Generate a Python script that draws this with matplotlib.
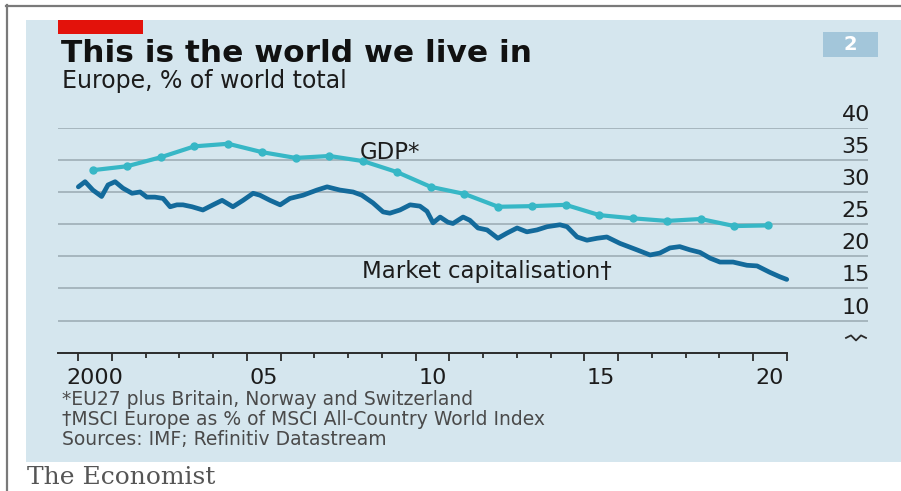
import matplotlib
matplotlib.use("Agg")
import matplotlib.pyplot as plt
from matplotlib.patches import Rectangle
from matplotlib.lines import Line2D
import matplotlib.transforms as mtransforms

# ---------------- data ----------------
gdp_years = list(range(2000, 2021))
gdp_share = [33.4, 34.0, 35.4, 37.1, 37.5, 36.2, 35.3, 35.6, 34.8, 33.1, 30.8,
             29.7, 27.7, 27.8, 28.0, 26.4, 25.9, 25.5, 25.8, 24.7, 24.8]

mcap_dates = [2000.01, 2000.21, 2000.44, 2000.70, 2000.89, 2001.10, 2001.33, 2001.60,
              2001.84, 2002.04, 2002.28, 2002.52, 2002.73, 2002.93, 2003.11, 2003.38,
              2003.70, 2004.00, 2004.27, 2004.59, 2004.89, 2005.19, 2005.39, 2005.69,
              2005.99, 2006.28, 2006.67, 2007.08, 2007.38, 2007.76, 2008.15, 2008.41,
              2008.74, 2009.04, 2009.24, 2009.54, 2009.84, 2010.13, 2010.34, 2010.52,
              2010.73, 2010.96, 2011.11, 2011.41, 2011.61, 2011.85, 2012.12, 2012.44,
              2012.71, 2013.01, 2013.30, 2013.60, 2013.90, 2014.28, 2014.49, 2014.79,
              2015.08, 2015.38, 2015.67, 2016.06, 2016.56, 2016.95, 2017.24, 2017.54,
              2017.83, 2018.13, 2018.43, 2018.73, 2019.02, 2019.41, 2019.82, 2020.12,
              2020.50, 2020.80, 2021.00]
mcap_share = [30.8, 31.6, 30.3, 29.3, 31.1, 31.6, 30.6, 29.8,
              30.0, 29.2, 29.2, 29.0, 27.7, 28.0, 28.0, 27.7,
              27.2, 28.0, 28.7, 27.7, 28.7, 29.8, 29.5, 28.7,
              28.0, 29.0, 29.5, 30.3, 30.8, 30.3, 30.0, 29.5,
              28.3, 26.9, 26.7, 27.2, 28.0, 27.8, 27.0, 25.2,
              26.1, 25.3, 25.1, 26.1, 25.6, 24.4, 24.1, 22.8,
              23.6, 24.4, 23.8, 24.1, 24.6, 24.9, 24.6, 23.0,
              22.5, 22.8, 23.0, 22.0, 21.0, 20.2, 20.5, 21.3,
              21.5, 21.0, 20.6, 19.7, 19.1, 19.1, 18.6, 18.5,
              17.5, 16.8, 16.4]

y_ticks = [10, 15, 20, 25, 30, 35, 40]
x_tick_years = [2000, 2005, 2010, 2015, 2020]
x_tick_labels = ["2000", "05", "10", "15", "20"]

title = "This is the world we live in"
subtitle = "Europe, % of world total"
footnotes = ["*EU27 plus Britain, Norway and Switzerland",
             "\u2020MSCI Europe as % of MSCI All-Country World Index",
             "Sources: IMF; Refinitiv Datastream"]

# ---------------- style ----------------
W, H = 901, 491
BG = "#d5e6ee"
GRID = "#a3b3bb"
TXT = "#1c1c1c"
GDP_C = "#37b7c6"
MCAP_C = "#136a9b"
FONT = "DejaVu Sans"

plt.rcParams["font.family"] = [FONT]

fig = plt.figure(figsize=(W / 100, H / 100), dpi=100)
fig.patch.set_facecolor("white")

def fx(x):
    return x / W

def fy(y):
    return 1 - y / H

# outer frame lines
fig.add_artist(Line2D([fx(6), fx(901)], [fy(5.5), fy(5.5)], color="#7a7a7a", lw=1.6))
fig.add_artist(Line2D([fx(6.5), fx(6.5)], [fy(5), fy(491)], color="#7a7a7a", lw=1.6))
# panel
fig.add_artist(Rectangle((fx(26), fy(462)), fx(901) - fx(26), fy(20) - fy(462),
                         transform=fig.transFigure, facecolor=BG, edgecolor="none", zorder=0))
# red tag
fig.add_artist(Rectangle((fx(58), fy(34)), fx(143) - fx(58), fy(20) - fy(34),
                         transform=fig.transFigure, facecolor="#e3120b", edgecolor="none", zorder=1))
# chart number box
fig.add_artist(Rectangle((fx(823), fy(57)), fx(878) - fx(823), fy(32) - fy(57),
                         transform=fig.transFigure, facecolor="#a3c6da", edgecolor="none", zorder=1))
fig.text(fx(850.5), fy(45), "2", color="white", fontsize=14, fontweight="bold",
         ha="center", va="center")

# titles
fig.text(fx(61), fy(62), title, fontsize=22.5, fontweight="bold", color="#111111",
         ha="left", va="baseline")
fig.text(fx(62), fy(88), subtitle, fontsize=17, color=TXT, ha="left", va="baseline")

# axes
x_left_px, x_right_px = 58, 868
y_top_px, y_bot_px = 127.7, 352.7
ax = fig.add_axes([fx(x_left_px), fy(y_bot_px), fx(x_right_px) - fx(x_left_px),
                   fy(y_top_px) - fy(y_bot_px)])
ax.set_facecolor("none")
px_per_year = 33.75
x0 = 2000 - (78 - x_left_px) / px_per_year
x1 = 2000 + (x_right_px - 78) / px_per_year
ax.set_xlim(x0, x1)
ax.set_ylim(5, 40)

for v in y_ticks:
    ax.axhline(v, color=GRID, lw=1.3, zorder=1)

ax.plot([y + 0.45 for y in gdp_years], gdp_share, color=GDP_C, lw=3.0,
        marker="o", markersize=5, solid_capstyle="round", zorder=3, clip_on=False)
ax.plot(mcap_dates, mcap_share, color=MCAP_C, lw=3.4, solid_joinstyle="round",
        solid_capstyle="round", zorder=4, clip_on=False)

for s in ["top", "right", "left"]:
    ax.spines[s].set_visible(False)
ax.spines["bottom"].set_bounds(x0, 2021)
ax.spines["bottom"].set_color("#2b2b2b")
ax.spines["bottom"].set_linewidth(1.4)
ax.set_yticks([])
major = []
for y in x_tick_years:
    major += [y, y + 1]
ax.set_xticks(major)
ax.set_xticks([y for y in range(2000, 2022) if y not in major], minor=True)
ax.tick_params(axis="x", which="major", length=6, width=1.3, color="#2b2b2b",
               labelbottom=False, direction="out")
ax.tick_params(axis="x", which="minor", length=3.5, width=1.3, color="#2b2b2b",
               direction="out")

# x labels
trans_x = mtransforms.blended_transform_factory(ax.transData, fig.transFigure)
for y, lab in zip(x_tick_years, x_tick_labels):
    ax.text(y + 0.5, fy(378), lab, transform=trans_x, ha="center", va="center",
            fontsize=16, color=TXT)

# y labels (right, above gridlines)
trans_y = mtransforms.blended_transform_factory(ax.transAxes, ax.transData)
for v in y_ticks:
    ax.annotate(str(v), xy=(1.0, v), xycoords=trans_y, xytext=(2, 3),
                textcoords="offset pixels", ha="right", va="bottom",
                fontsize=16, color=TXT)

# axis break symbol
bx = [-22, -17, -12, -7, -2]
by = [0, 2.5, -2.5, 2.5, 0]
ax.add_line(Line2D([1.0 + b / (x_right_px - x_left_px) for b in bx],
                   [7.3 + d / 6.43 for d in by], transform=trans_y,
                   color="#2b2b2b", lw=1.3, clip_on=False))

# series labels
ax.text(2008.36, 36.2, "GDP*", transform=ax.transData, fontsize=16.5, color=TXT,
        ha="left", va="center")
ax.text(2008.4, 17.6, "Market capitalisation\u2020", transform=ax.transData,
        fontsize=16.5, color=TXT, ha="left", va="center")

# footnotes
for i, line in enumerate(footnotes):
    fig.text(fx(62), fy(405 + i * 20), line, fontsize=13.5, color="#4a4a4a",
             ha="left", va="baseline")

fig.text(fx(27), fy(484), "The Economist", fontsize=18, color="#555555",
         family=["DejaVu Serif"], ha="left", va="baseline")

fig.savefig("out.png", dpi=100, facecolor="white")
